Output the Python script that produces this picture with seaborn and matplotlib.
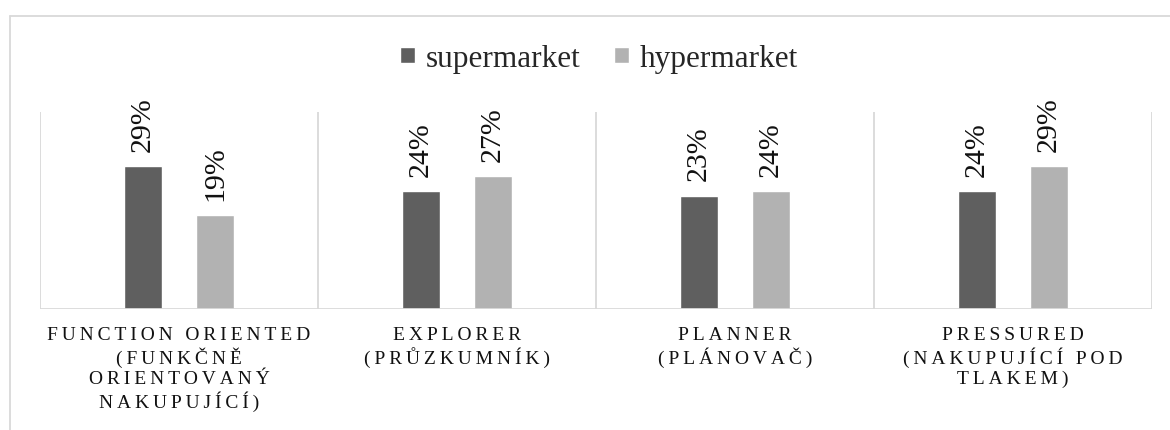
import matplotlib
matplotlib.use("Agg")
import matplotlib.pyplot as plt
import seaborn as sns
import pandas as pd
from matplotlib.lines import Line2D

# ---- data ----
categories = [
    "FUNCTION ORIENTED\n(FUNKČNĚ\nORIENTOVANÝ\nNAKUPUJÍCÍ)",
    "EXPLORER\n(PRŮZKUMNÍK)",
    "PLANNER\n(PLÁNOVAČ)",
    "PRESSURED\n(NAKUPUJÍCÍ POD\nTLAKEM)",
]
series_names = ["supermarket", "hypermarket"]
supermarket = [0.29, 0.24, 0.23, 0.24]
hypermarket = [0.19, 0.27, 0.24, 0.29]
colors = ["#5f5f5f", "#b2b2b2"]

rows = []
for i, c in enumerate(categories):
    rows.append({"cat": c, "series": series_names[0], "val": supermarket[i]})
    rows.append({"cat": c, "series": series_names[1], "val": hypermarket[i]})
df = pd.DataFrame(rows)

sns.set_theme(style="white")
plt.rcParams["font.family"] = ["Liberation Serif", "DejaVu Serif"]

W, H = 1170, 431
fig = plt.figure(figsize=(W / 100, H / 100), dpi=100)
ax = fig.add_axes([40 / W, (H - 310) / H, (1152 - 40) / W, (310 - 113) / H])

sns.barplot(data=df, x="cat", y="val", hue="series", palette=colors,
            width=0.518, gap=0.47, ax=ax, saturation=1, errorbar=None)

ax.set_ylim(0, 0.40)
ax.set_xlim(-0.5, len(categories) - 0.5)
for s in ax.spines.values():
    s.set_visible(False)
ax.set_yticks([])
ax.set_xlabel("")
ax.set_ylabel("")

grid_col = "#d9d9d9"
for xb in [i - 0.5 for i in range(len(categories) + 1)]:
    ax.axvline(xb, color=grid_col, lw=1.3, zorder=0)
ax.axhline(0, color=grid_col, lw=2, zorder=3)

# letter-spaced category labels
def spaced(s):
    out = []
    for line in s.split("\n"):
        out.append("\u2009".join(list(line)))
    return "\n".join(out)

ax.set_xticks(range(len(categories)))
ax.set_xticklabels([spaced(c) for c in categories], fontsize=14,
                   linespacing=1.22, color="#111111")
ax.tick_params(axis="x", length=0, pad=12)

for cont in ax.containers:
    ax.bar_label(cont, labels=[f"{v*100:.0f}%" for v in cont.datavalues],
                 rotation=90, padding=11, fontsize=21.5, color="#111111")

sns.move_legend(ax, "center", bbox_to_anchor=(599 / W, 1 - 60 / H),
                bbox_transform=fig.transFigure, ncol=2, frameon=False,
                title=None, fontsize=22.5, handlelength=0.48,
                handleheight=0.42, handletextpad=0.32, columnspacing=1.1)

# outer chart frame
fx = 9.5 / W
fy = 1 - 16.5 / H
fig.add_artist(Line2D([fx, fx], [0, fy], transform=fig.transFigure,
                      color=grid_col, lw=1.3))
fig.add_artist(Line2D([fx, 1], [fy, fy], transform=fig.transFigure,
                      color=grid_col, lw=1.3))

fig.savefig("out.png", dpi=100)
